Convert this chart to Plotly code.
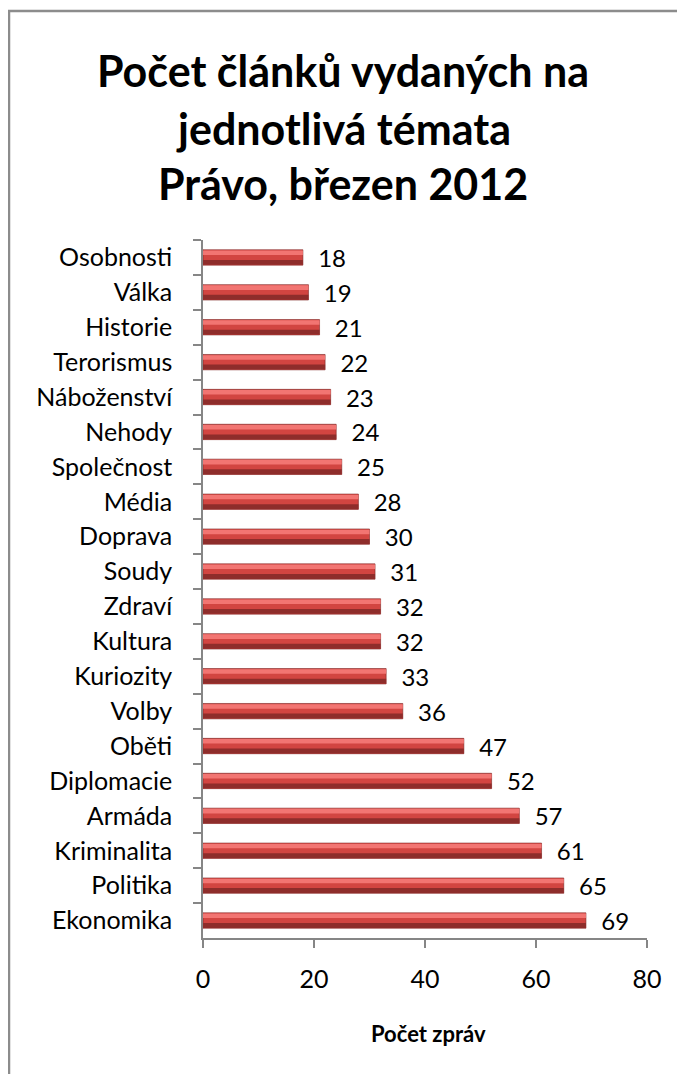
import plotly.graph_objects as go

# data, top to bottom as shown
temata = ['Osobnosti', 'Válka', 'Historie', 'Terorismus', 'Náboženství', 'Nehody',
          'Společnost', 'Média', 'Doprava', 'Soudy', 'Zdraví', 'Kultura', 'Kuriozity',
          'Volby', 'Oběti', 'Diplomacie', 'Armáda', 'Kriminalita', 'Politika', 'Ekonomika']
pocty = [18, 19, 21, 22, 23, 24, 25, 28, 30, 31, 32, 32, 33, 36, 47, 52, 57, 61, 65, 69]
x_ticks = [0, 20, 40, 60, 80]
nadpis = ['Počet článků vydaných na', 'jednotlivá témata', 'Právo, březen 2012']
osa_x = 'Počet zpráv'

# page body has an 8px margin, so everything is laid out 8px up/left
W, H = 685, 1074
L, R, T, B = 195, 46, 232, 144
pw, ph = W - L - R, H - T - B

font = 'Lato'

fig = go.Figure()
# main bar
fig.add_trace(go.Bar(
    x=pocty, y=temata, orientation='h', width=0.44,
    marker=dict(color='#d24541', line=dict(color='#7a2220', width=0.6)),
    text=['\u00a0\u00a0' + str(v) for v in pocty], textposition='outside',
    constraintext='none',
    textfont=dict(family=font, size=24, color='black'), cliponaxis=False,
    hoverinfo='x+y'))
# highlight and shadow stripes for the shiny look
fig.add_trace(go.Bar(
    x=pocty, y=temata, orientation='h', width=0.13, offset=-0.2,
    marker=dict(color='#f27572', line=dict(width=0)), hoverinfo='skip'))
fig.add_trace(go.Bar(
    x=pocty, y=temata, orientation='h', width=0.14, offset=0.07,
    marker=dict(color='#8e2d2b', line=dict(width=0)), hoverinfo='skip'))

def px(x):
    return (x - L) / pw

def py(y):
    return (H - B - y) / ph

# title lines
annotations = []
for i, line in enumerate(nadpis):
    annotations.append(dict(
        text='<b>' + line + '</b>', showarrow=False, xref='paper', yref='paper',
        x=px(335), y=py([62, 120, 175][i]), xanchor='center', yanchor='middle',
        font=dict(family=font, size=43, color='black')))
# x axis title
annotations.append(dict(
    text='<b>' + osa_x + '</b>', showarrow=False, xref='paper', yref='paper',
    x=px(420), y=py(1025), xanchor='center', yanchor='middle',
    font=dict(family=font, size=22, color='black')))

fig.update_layout(
    width=W, height=H, barmode='overlay', showlegend=False,
    margin=dict(l=L, r=R, t=T, b=B),
    paper_bgcolor='white', plot_bgcolor='white',
    font=dict(family=font, color='black'),
    annotations=annotations,
    xaxis=dict(range=[0, 80], tickvals=x_ticks, showgrid=False, zeroline=False,
               showline=True, linecolor='#868686', linewidth=1.5,
               ticks='outside', ticklen=8, tickcolor='#868686', tickwidth=1.5,
               tickfont=dict(size=25), ticklabelstandoff=10),
    yaxis=dict(autorange='reversed', showgrid=False, showline=True,
               linecolor='#868686', linewidth=1.5, ticks='outside', ticklen=8,
               tickcolor='#868686', tickwidth=1.5, tickson='boundaries',
               tickfont=dict(size=25), ticklabelstandoff=24),
    shapes=[dict(type='rect', xref='paper', yref='paper',
                 x0=px(1), x1=px(W + 20), y0=py(H + 20), y1=py(3),
                 line=dict(color='#8c8c8c', width=2.5), layer='below')],
)

fig.write_html('out.html')
